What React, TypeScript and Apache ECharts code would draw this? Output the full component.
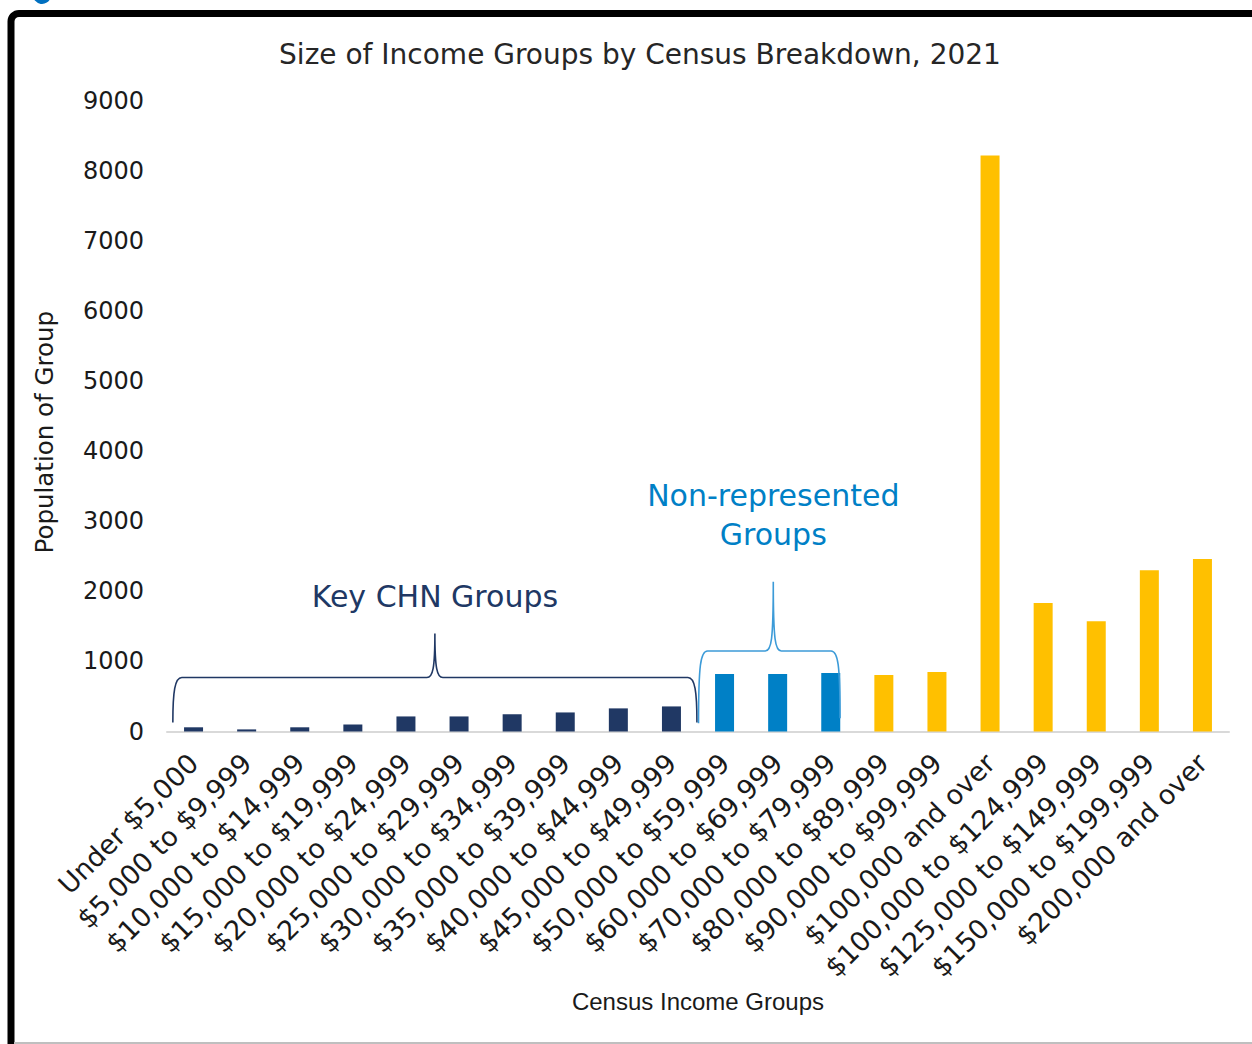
import React, { useEffect, useRef } from "react";
import * as echarts from "echarts";

const categories = [
  "Under $5,000",
  "$5,000 to $9,999",
  "$10,000 to $14,999",
  "$15,000 to $19,999",
  "$20,000 to $24,999",
  "$25,000 to $29,999",
  "$30,000 to $34,999",
  "$35,000 to $39,999",
  "$40,000 to $44,999",
  "$45,000 to $49,999",
  "$50,000 to $59,999",
  "$60,000 to $69,999",
  "$70,000 to $79,999",
  "$80,000 to $89,999",
  "$90,000 to $99,999",
  "$100,000 and over",
  "$100,000 to $124,999",
  "$125,000 to $149,999",
  "$150,000 to $199,999",
  "$200,000 and over",
];

const population = [60, 30, 60, 100, 215, 215, 245, 272, 330, 358, 821, 821, 836, 807, 850, 8221, 1836, 1574, 2303, 2464];

const groupOf = [
  "key", "key", "key", "key", "key", "key", "key", "key", "key", "key",
  "non", "non", "non",
  "other", "other", "other", "other", "other", "other", "other",
];

const yMin = 0;
const yMax = 9000;
const yInterval = 1000;

const braceSpans = [
  { label: ["Key CHN Groups"], from: 0, to: 9, kind: "key" },
  { label: ["Non-represented", "Groups"], from: 10, to: 12, kind: "non" },
];

const FONT = "DejaVu Sans";
const NAVY = "#203864";
const BLUE = "#0080C6";
const BLUE_LINE = "#3C9BD8";
const YELLOW = "#FFC000";

const colorOf: Record<string, string> = { key: NAVY, non: BLUE, other: YELLOW };

export default function App() {
  const ref = useRef<HTMLDivElement>(null);

  useEffect(() => {
    if (!ref.current) return;
    document.body.style.margin = "0";
    const chart = echarts.init(ref.current, undefined, { renderer: "svg" });

    const braceGeom: Record<string, any> = {
      key: { l: -0.39, r: 0.48, yBL: 130, yBR: 130, yH: 770, yT: 1400, color: NAVY, textY: [1921], peakShift: 0 },
      non: { l: -0.49, r: 0.175, yBL: 117, yBR: 190, yH: 1150, yT: 2136, color: BLUE_LINE, textY: [3364, 2807], peakShift: 4 },
    };

    const option: any = {
      animation: false,
      backgroundColor: "#ffffff",
      title: {
        text: "Size of Income Groups by Census Breakdown, 2021",
        left: 635,
        textAlign: "center",
        top: 35,
        textStyle: { fontFamily: FONT, fontSize: 28, fontWeight: "normal", color: "#262626" },
      },
      grid: { left: 167, right: 23, top: 101, height: 630.5 },
      xAxis: {
        type: "category",
        data: categories,
        name: "Census Income Groups",
        nameLocation: "middle",
        nameGap: 258,
        nameTextStyle: { fontFamily: "Liberation Sans", fontSize: 24, color: "#1a1a1a" },
        axisLine: { show: true, lineStyle: { color: "#d9d9d9", width: 2 } },
        axisTick: { show: false },
        axisLabel: {
          interval: 0,
          rotate: 45,
          margin: 27,
          fontFamily: FONT,
          fontSize: 27,
          color: "#1a1a1a",
        },
      },
      yAxis: {
        type: "value",
        min: yMin,
        max: yMax,
        interval: yInterval,
        name: "Population of Group",
        nameLocation: "middle",
        nameGap: 110,
        nameRotate: 90,
        nameTextStyle: { fontFamily: FONT, fontSize: 24.5, color: "#1a1a1a", padding: [0, 32, 0, 0] },
        axisLine: { show: false },
        axisTick: { show: false },
        splitLine: { show: false },
        axisLabel: {
          margin: 23,
          fontFamily: FONT,
          fontSize: 24,
          color: "#1a1a1a",
          formatter: (v: number) => String(v),
        },
      },
      series: [
        {
          type: "bar",
          barWidth: 19,
          data: population.map((v, i) => ({
            value: v,
            itemStyle: { color: colorOf[groupOf[i]] },
          })),
        },
        {
          type: "custom",
          clip: false,
          z: 5,
          data: braceSpans.map((b) => [b.from, b.to]),
          renderItem: (params: any, api: any) => {
            const span = braceSpans[params.dataIndex];
            const g = braceGeom[span.kind];
            const band = api.size([1, 0])[0];
            const x0 = api.coord([span.from, 0])[0];
            const x1 = api.coord([span.to, 0])[0];
            const xL = x0 + g.l * band;
            const xR = x1 + g.r * band;
            const xP = (xL + xR) / 2 + g.peakShift;
            const yBL = api.coord([span.from, g.yBL])[1];
            const yBR = api.coord([span.from, g.yBR])[1];
            const yH = api.coord([span.from, g.yH])[1];
            const yT = api.coord([span.from, g.yT])[1];
            const r = 9;
            const p = 8;
            const d =
              `M ${xL} ${yBL} C ${xL} ${yH + 14} ${xL + 2} ${yH} ${xL + r} ${yH} ` +
              `L ${xP - p} ${yH} C ${xP - 2} ${yH} ${xP} ${yH - 10} ${xP} ${yT} ` +
              `C ${xP} ${yH - 10} ${xP + 2} ${yH} ${xP + p} ${yH} ` +
              `L ${xR - r} ${yH} C ${xR - 2} ${yH} ${xR} ${yH + 14} ${xR} ${yBR}`;
            const children: any[] = [
              {
                type: "path",
                shape: { pathData: d },
                style: { stroke: g.color, lineWidth: 1.6, fill: "none" },
              },
            ];
            span.label.forEach((t: string, i: number) => {
              children.push({
                type: "text",
                x: xP,
                y: api.coord([span.from, g.textY[i]])[1],
                style: {
                  text: t,
                  fontFamily: FONT,
                  fontSize: 30,
                  fill: span.kind === "key" ? NAVY : BLUE,
                  align: "center",
                  verticalAlign: "middle",
                },
              });
            });
            return { type: "group", children };
          },
        },
      ],
      graphic: [
        {
          type: "rect",
          shape: { x: 11, y: 13.5, width: 1400, height: 1200, r: 8 },
          style: { fill: "none", stroke: "#000000", lineWidth: 7 },
          silent: true,
        },
        {
          type: "rect",
          shape: { x: 14, y: 1042, width: 1238, height: 2 },
          style: { fill: "#bfbfbf" },
          silent: true,
        },
        {
          type: "arc",
          shape: { cx: 42, cy: -5, r: 7, startAngle: 0.3, endAngle: Math.PI },
          style: { stroke: "#0070C0", lineWidth: 4, fill: "none" },
          silent: true,
        },
      ],
    };

    chart.setOption(option);
    return () => chart.dispose();
  }, []);

  return (
    <div
      ref={ref}
      style={{ position: "absolute", left: 0, top: 0, width: 1252, height: 1044 }}
    />
  );
}
